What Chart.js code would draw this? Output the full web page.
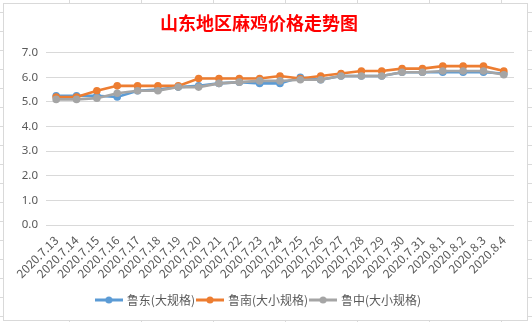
<!DOCTYPE html>
<html>
<head>
<meta charset="utf-8">
<script src="https://cdn.jsdelivr.net/npm/chart.js@4.4.0/dist/chart.umd.min.js"></script>
<style>
  html, body { margin: 0; padding: 0; }
  body {
    width: 532px; height: 322px; overflow: hidden; position: relative;
    background-color: #fff;
    background-image:
      repeating-linear-gradient(to right, transparent 0, transparent 69px, #dadada 69px, #dadada 70px, transparent 70px, transparent 72px),
      repeating-linear-gradient(to bottom, transparent 0, transparent 12px, #dadada 12px, #dadada 13px, transparent 13px, transparent 19px);
  }
  #box {
    position: absolute; left: 3px; top: 3px; width: 523px; height: 316px;
    background: #fff; border: 1px solid #d9d9d9;
  }
</style>
</head>
<body>
<div id="box"><canvas id="c" width="523" height="316"></canvas></div>
<script>
// 日期（横轴）
const dates = ['2020.7.13', '2020.7.14', '2020.7.15', '2020.7.16', '2020.7.17', '2020.7.18',
  '2020.7.19', '2020.7.20', '2020.7.21', '2020.7.22', '2020.7.23', '2020.7.24', '2020.7.25',
  '2020.7.26', '2020.7.27', '2020.7.28', '2020.7.29', '2020.7.30', '2020.7.31',
  '2020.8.1', '2020.8.2', '2020.8.3', '2020.8.4'];

// 三个地区价格（元/斤）
const ludong = [5.25, 5.25, 5.25, 5.2, 5.45, 5.5, 5.6, 5.65, 5.75, 5.8, 5.75, 5.75, 6.0,
  5.9, 6.05, 6.05, 6.05, 6.2, 6.2, 6.2, 6.2, 6.2, 6.15];
const lunan = [5.2, 5.2, 5.45, 5.65, 5.65, 5.65, 5.65, 5.95, 5.95, 5.95, 5.95, 6.05, 5.95,
  6.05, 6.15, 6.25, 6.25, 6.35, 6.35, 6.45, 6.45, 6.45, 6.25];
const luzhong = [5.1, 5.1, 5.15, 5.35, 5.45, 5.45, 5.6, 5.6, 5.75, 5.8, 5.85, 5.85, 5.9,
  5.9, 6.05, 6.05, 6.05, 6.2, 6.2, 6.25, 6.25, 6.25, 6.1];

const seriesNames = ['鲁东(大规格)', '鲁南(大小规格)', '鲁中(大小规格)'];
const yTicks = [0, 1, 2, 3, 4, 5, 6, 7];

const COLORS = ['#5B9BD5', '#ED7D31', '#A5A5A5'];
const TEXT = '#595959';

// legend marker: short line with a dot in the middle
function legendMarker(color) {
  const cv = document.createElement('canvas');
  cv.width = 28; cv.height = 10;
  const g = cv.getContext('2d');
  g.strokeStyle = color;
  g.lineWidth = 3;
  g.beginPath(); g.moveTo(0, 5); g.lineTo(28, 5); g.stroke();
  g.fillStyle = color;
  g.beginPath(); g.arc(14, 5, 3.5, 0, Math.PI * 2); g.fill();
  return cv;
}

function makeSet(i, data) {
  return {
    label: seriesNames[i],
    data: data,
    borderColor: COLORS[i],
    backgroundColor: COLORS[i],
    borderWidth: 2.6,
    pointRadius: 3.8,
    pointBorderWidth: 0,
    pointStyle: 'circle',
    tension: 0,
    order: 3 - i,            // later series drawn on top, like the original
    _marker: legendMarker(COLORS[i]),
  };
}

new Chart(document.getElementById('c'), {
  type: 'line',
  data: {
    labels: dates,
    datasets: [makeSet(0, ludong), makeSet(1, lunan), makeSet(2, luzhong)],
  },
  options: {
    responsive: false,
    animation: false,
    layout: { padding: { left: 0, right: 13, top: 0, bottom: 4 } },
    scales: {
      x: {
        offset: true,
        grid: { display: false },
        border: { display: false },
        ticks: {
          color: TEXT, autoSkip: false, minRotation: 45, maxRotation: 45,
          font: { family: '"Noto Sans CJK SC", "Noto Sans", sans-serif', size: 12 },
          padding: 0,
        },
        afterFit: s => { s.height = 66; },
      },
      y: {
        min: 0, max: 7,
        afterBuildTicks: s => { s.ticks = yTicks.map(v => ({ value: v })); },
        grid: { color: '#d9d9d9', drawTicks: false, lineWidth: 1 },
        border: { display: false },
        ticks: {
          color: TEXT, padding: 8,
          font: { family: '"Noto Sans", sans-serif', size: 11.5 },
          callback: v => Number(v).toFixed(1),
        },
        afterFit: s => { s.width = 42; },
      },
    },
    plugins: {
      title: {
        display: true,
        text: '山东地区麻鸡价格走势图',
        color: '#FF0000',
        font: { family: '"Noto Sans CJK SC", sans-serif', size: 18, weight: 'bold', lineHeight: 1.2 },
        padding: { top: 8, bottom: 19 },
      },
      legend: {
        position: 'bottom',
        labels: {
          usePointStyle: true,
          pointStyleWidth: 24,
          color: TEXT,
          padding: 3,
          font: { family: '"Noto Sans CJK SC", sans-serif', size: 12 },
          sort: (a, b) => a.datasetIndex - b.datasetIndex,
          generateLabels: chart => chart.data.datasets.map((ds, i) => ({
            text: ds.label,
            fillStyle: ds.borderColor,
            strokeStyle: ds.borderColor,
            fontColor: TEXT,
            lineWidth: 0,
            pointStyle: ds._marker,
            hidden: !chart.isDatasetVisible(i),
            datasetIndex: i,
          })),
        },
      },
      tooltip: { enabled: false },
    },
  },
});
</script>
</body>
</html>
